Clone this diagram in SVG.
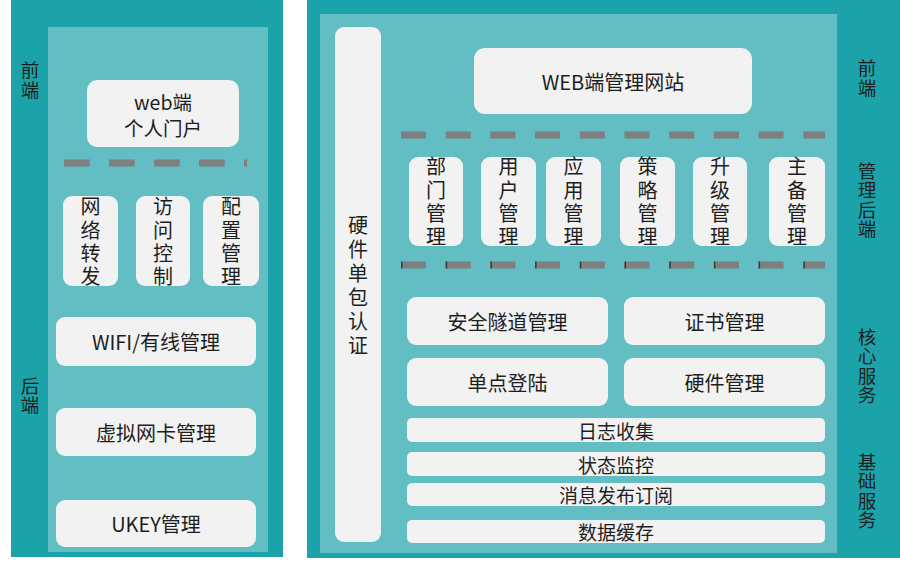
<svg xmlns="http://www.w3.org/2000/svg" width="900" height="576" viewBox="0 0 900 576">
<style>
text{font-family:"Noto Sans CJK SC","Noto Sans",sans-serif;fill:#1e1e1e;text-anchor:middle;dominant-baseline:central}
.v{writing-mode:vertical-rl;text-orientation:upright}
.outer{fill:#1CA3AA}
.inner{fill:#62BEC3}
.box{fill:#F2F2F2}
.t20{font-size:20px}
.t19{font-size:19px}
.lab{font-size:18.5px;letter-spacing:1px}
.vb{font-size:20px;letter-spacing:3.3px}
.dash{stroke:#7F7F7F;stroke-width:7;fill:none}
.tick{stroke:#3a3a3a;stroke-width:7;fill:none}
</style>
<rect width="900" height="576" fill="#ffffff"/>
<!-- panels -->
<g id="left-panel">
<rect class="outer" x="11" y="0" width="272" height="557"/>
<rect class="inner" x="48" y="27" width="220" height="525"/>
<text class="lab v" x="30" y="80.5">前端</text>
<text class="lab v" x="30" y="396">后端</text>
</g>
<g id="right-panel">
<rect class="outer" x="307" y="0" width="593" height="558"/>
<rect class="inner" x="320" y="14" width="517" height="539"/>
<text class="lab v" x="867" y="78.5">前端</text>
<text class="lab v" x="867" y="200.5">管理后端</text>
<text class="lab v" x="867" y="366.5">核心服务</text>
<text class="lab v" x="867" y="491.5">基础服务</text>
</g>
<!-- separators -->
<g id="separators">
<line class="dash" x1="64" y1="163" x2="247" y2="163" stroke-dasharray="25.7 19.3"/>
<line class="dash" x1="401" y1="135" x2="825" y2="135" stroke-dasharray="25 19.7"/>
<line class="dash" x1="401" y1="265" x2="825" y2="265" stroke-dasharray="25 19.7"/>
<line class="tick" x1="401" y1="265" x2="825" y2="265" stroke-dasharray="1.5 43.2"/>
</g>
<!-- left nodes -->
<g id="web-portal"><rect class="box" x="87" y="80" width="152" height="67" rx="10"/><text x="163" y="101" style="font-size:19.5px">web端</text><text x="163" y="127.5" style="font-size:19.5px">个人门户</text></g>
<g id="net-forward"><rect class="box" x="63" y="196" width="55" height="90" rx="9"/><text class="vb v" x="90.5" y="243.5">网络转发</text></g>
<g id="access-ctrl"><rect class="box" x="136" y="196" width="54" height="90" rx="9"/><text class="vb v" x="163" y="243.5">访问控制</text></g>
<g id="config-mgmt"><rect class="box" x="203" y="196" width="56" height="90" rx="9"/><text class="vb v" x="231" y="243.5">配置管理</text></g>
<g id="wifi-mgmt"><rect class="box" x="56" y="317" width="200" height="49" rx="9"/><text class="t20" x="156" y="341">WIFI/有线管理</text></g>
<g id="vnic-mgmt"><rect class="box" x="56" y="408" width="200" height="48" rx="9"/><text class="t20" x="156" y="432">虚拟网卡管理</text></g>
<g id="ukey-mgmt"><rect class="box" x="56" y="500" width="200" height="47" rx="9"/><text class="t20" x="156" y="523">UKEY管理</text></g>
<!-- right nodes -->
<g id="hw-spa"><rect class="box" x="335" y="27" width="46" height="515" rx="9"/><text class="v" x="358" y="287" style="font-size:20px;letter-spacing:4px">硬件单包认证</text></g>
<g id="web-admin"><rect class="box" x="474" y="48" width="278" height="66" rx="11"/><text class="t20" x="613" y="81">WEB端管理网站</text></g>
<g id="dept-mgmt"><rect class="box" x="409" y="157" width="54" height="89" rx="9"/><text class="vb v" x="436" y="203.5">部门管理</text></g>
<g id="user-mgmt"><rect class="box" x="481" y="157" width="55" height="89" rx="9"/><text class="vb v" x="508.5" y="203.5">用户管理</text></g>
<g id="app-mgmt"><rect class="box" x="546" y="157" width="55" height="89" rx="9"/><text class="vb v" x="573.5" y="203.5">应用管理</text></g>
<g id="policy-mgmt"><rect class="box" x="620" y="157" width="55" height="89" rx="9"/><text class="vb v" x="647.5" y="203.5">策略管理</text></g>
<g id="upgrade-mgmt"><rect class="box" x="693" y="157" width="54" height="89" rx="9"/><text class="vb v" x="720" y="203.5">升级管理</text></g>
<g id="ha-mgmt"><rect class="box" x="769" y="157" width="56" height="89" rx="9"/><text class="vb v" x="797" y="203.5">主备管理</text></g>
<g id="tunnel-mgmt"><rect class="box" x="407" y="297" width="201" height="48" rx="9"/><text class="t20" x="507.5" y="321">安全隧道管理</text></g>
<g id="cert-mgmt"><rect class="box" x="624" y="297" width="201" height="48" rx="9"/><text class="t20" x="724.5" y="321">证书管理</text></g>
<g id="sso"><rect class="box" x="407" y="358" width="201" height="48" rx="9"/><text class="t20" x="507.5" y="382">单点登陆</text></g>
<g id="hw-mgmt"><rect class="box" x="624" y="358" width="201" height="48" rx="9"/><text class="t20" x="724.5" y="382">硬件管理</text></g>
<g id="log"><rect class="box" x="407" y="418" width="418" height="24" rx="5"/><text class="t19" x="616" y="430">日志收集</text></g>
<g id="monitor"><rect class="box" x="407" y="452" width="418" height="24" rx="5"/><text class="t19" x="616" y="464">状态监控</text></g>
<g id="pubsub"><rect class="box" x="407" y="483" width="418" height="23" rx="5"/><text class="t19" x="616" y="494.5">消息发布订阅</text></g>
<g id="cache"><rect class="box" x="407" y="520" width="418" height="23" rx="5"/><text class="t19" x="616" y="531.5">数据缓存</text></g>
</svg>
